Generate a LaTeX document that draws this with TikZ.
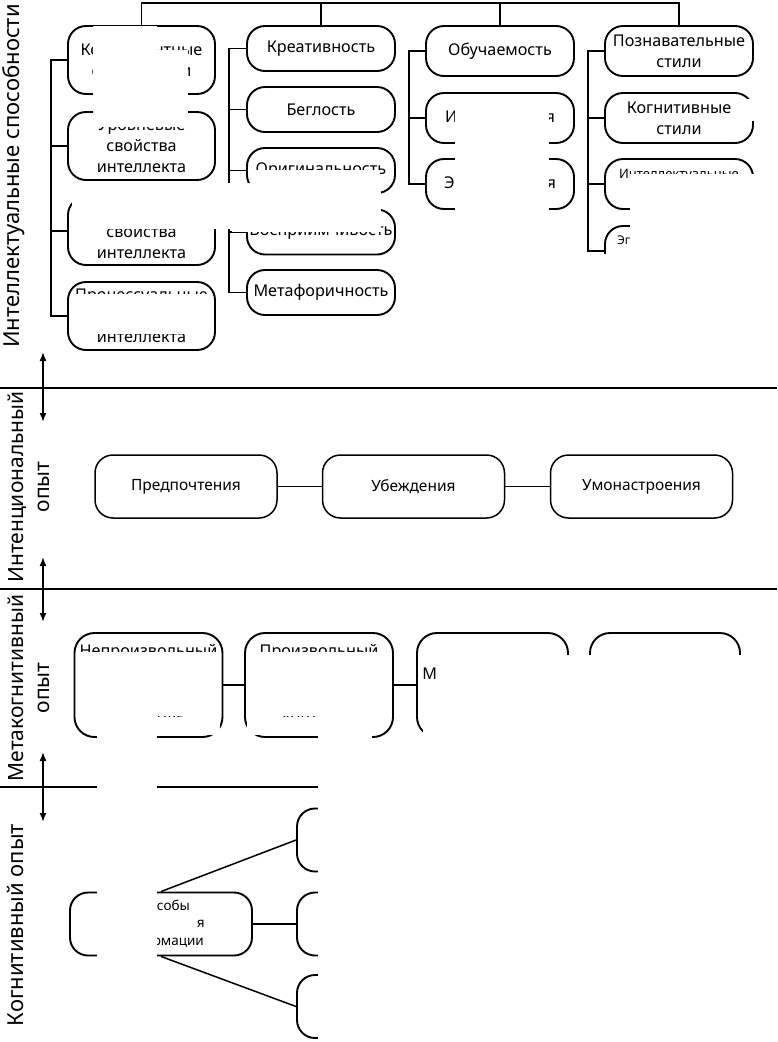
\documentclass[tikz,border=0pt]{standalone}
\usepackage{fontspec}
\setmainfont{Noto Sans}
\usetikzlibrary{arrows.meta}
\begin{document}
\begin{tikzpicture}[x=1pt,y=-1pt,
  box/.style={draw, line width=1.9pt, rounded corners=18pt, align=center, inner sep=0pt, font=\fontsize{16.2}{21}\selectfont},
  kbox/.style={box, minimum width=147pt, minimum height=68pt},
  cbox/.style={box, minimum width=148pt, minimum height=45pt},
  obox/.style={box, minimum width=148pt, minimum height=50pt},
  ibox/.style={box, line width=1.5pt, minimum width=182pt, minimum height=63pt, font=\fontsize{15.5}{18}\selectfont},
  mbox/.style={box, minimum width=148pt, minimum height=104pt, rounded corners=20pt},
  sbox/.style={box, minimum width=182pt, minimum height=63pt, font=\fontsize{13.5}{17.5}\selectfont},
  link/.style={line width=1.9pt},
  sep/.style={line width=1.5pt},
  dbl/.style={line width=1.5pt, {Latex[length=9pt,width=7pt]}-{Latex[length=9pt,width=7pt]}},
  lab/.style={rotate=90, font=\fontsize{22}{25.5}\selectfont, align=center, inner sep=0pt},
  mlab/.style={lab, font=\fontsize{21}{25.5}\selectfont},
  mask/.style={fill=white, draw=none}
]
\useasboundingbox (0,0) rectangle (777,1042);

% side labels
\node[lab] (L1) at (14,176) {Интеллектуальные способности};
\node[mlab] (L2) at (29,487) {Интенциональный\\опыт};
\node[mlab] (L3) at (29,688) {Метакогнитивный\\опыт};
\node[lab] (L4) at (15,925) {Когнитивный опыт};

% separators
\draw[sep] (0,388) -- (777,388);
\draw[sep] (0,589) -- (777,589);
\draw[sep] (0,787) -- (777,787);

% double arrows
\coordinate (a1t) at (43,352); \coordinate (a1b) at (43,422);
\coordinate (a2t) at (43,557); \coordinate (a2b) at (43,622);
\coordinate (a3t) at (43,752); \coordinate (a3b) at (43,822);
\draw[dbl] (a1t) -- (a1b);
\draw[dbl] (a2t) -- (a2b);
\draw[dbl] (a3t) -- (a3b);

% top block
\node[kbox] (K1) at (141.5,60) {Конвергентные\\способности};
\node[kbox] (K2) at (141.5,146) {Уровневые\\свойства\\интеллекта};
\node[kbox] (K3) at (141.5,231) {Комбинаторные\\свойства\\интеллекта};
\node[kbox] (K4) at (141.5,316) {Процессуальные\\свойства\\интеллекта};

\node[cbox] (C1) at (321,48.5) {Креативность};
\node[cbox] (C2) at (321,109.5) {Беглость};
\node[cbox] (C3) at (321,170.5) {Оригинальность};
\node[cbox] (C4) at (321,232) {Восприимчивость};
\node[cbox] (C5) at (321,292.5) {Метафоричность};

\node[obox] (O1) at (500,51) {Обучаемость};
\node[obox] (O2) at (500,118) {Имплицитная};
\node[obox] (O3) at (500,184) {Эксплицитная};

\node[obox] (P1) at (679,51) {Познавательные\\стили};
\node[obox] (P2) at (679,118) {Когнитивные\\стили};
\node[obox] (P3) at (679,184) {\fontsize{13}{21}\selectfont Интеллектуальные\\стили};
\node[obox] (P4) at (679,251) {\fontsize{12}{21}\selectfont Эпистемологические\\стили};

\coordinate (topL) at (142,3);
\draw[link] (K1.north) |- (P1.north |- topL) -- (P1.north);
\draw[link] (C1.north) -- (C1.north |- topL);
\draw[link] (O1.north) -- (O1.north |- topL);

\draw[link] (K1.west) -- ++(-16,0) |- (K4.west);
\draw[link] (K2.west) -- ++(-16,0);
\draw[link] (K3.west) -- ++(-16,0);

\draw[link] (C1.west) -- ++(-17,0) |- (C5.west);
\draw[link] (C2.west) -- ++(-17,0);
\draw[link] (C3.west) -- ++(-17,0);
\draw[link] (C4.west) -- ++(-17,0);

\draw[link] (O1.west) -- ++(-16,0) |- (O3.west);
\draw[link] (O2.west) -- ++(-16,0);

\draw[link] (P1.west) -- ++(-16,0) |- (P4.west);
\draw[link] (P2.west) -- ++(-16,0);
\draw[link] (P3.west) -- ++(-16,0);

% intentional row
\node[ibox] (I1) at (186,486.5) {Предпочтения};
\node[ibox] (I2) at (413.5,486.5) {Убеждения};
\node[ibox] (I3) at (641.5,486.5) {Умонастроения};
\draw[sep] (I1) -- (I2);
\draw[sep] (I2) -- (I3);

% metacognitive row
\node[mbox] (M1) at (148.5,685) {Непроизвольный\\[12pt]{\fontsize{13.5}{21}\selectfont интеллектуальный}\\[12pt]контроль};
\node[mbox] (M2) at (319,685) {Произвольный\\[12pt]{\fontsize{13.5}{21}\selectfont интеллектуальный}\\[12pt]контроль};
\node[mbox, minimum width=151pt] (M3) at (492.5,685) {Метакогнитивная\\осведомленность};
\node[mbox, minimum width=150pt] (M4) at (665,685) {};
\draw[link] (M1) -- (M2);
\draw[link] (M2) -- (M3);

% cognitive block
\node[sbox] (S) at (161,924) {Способы\\кодирования\\информации};
\node[sbox] (R1) at (388,840) {};
\node[sbox] (R2) at (388,924) {};
\node[sbox] (R3) at (388,1006.5) {};
\draw[sep] (S.north) -- (R1.west);
\draw[sep] (S.east) -- (R2.west);
\draw[sep] (S.south) -- (R3.west);

% white masks (hidden regions of the picture)
\fill[mask] (93,25.5) rectangle (157,127);
\fill[mask] (157,50) rectangle (188,127);
\fill[mask] (72,182) rectangle (228,229);
\fill[mask] (228,183) rectangle (232,229);
\fill[mask] (250,170) rectangle (380,183);
\fill[mask] (232,183) rectangle (381,232);
\fill[mask] (73,294) rectangle (212,334);
\fill[mask] (455,96) rectangle (549,213);
\fill[mask] (746,99) rectangle (758,121);
\fill[mask] (630,174) rectangle (777,258);
\fill[mask] (596,254) rectangle (777,384);
\fill[mask] (77,652) rectangle (219,716);
\fill[mask] (97,716) rectangle (157,965);
\fill[mask] (157,717) rectangle (220,735);
\fill[mask] (247,652) rectangle (391,716);
\fill[mask] (247,717) rectangle (372,735);
\fill[mask] (318,716) rectangle (372,741);
\fill[mask] (318,741) rectangle (777,1042);
\fill[mask] (436,655) rectangle (777,741);
\fill[mask] (423,688) rectangle (436,741);
\fill[mask] (157,912) rectangle (196,937);
\end{tikzpicture}
\end{document}
